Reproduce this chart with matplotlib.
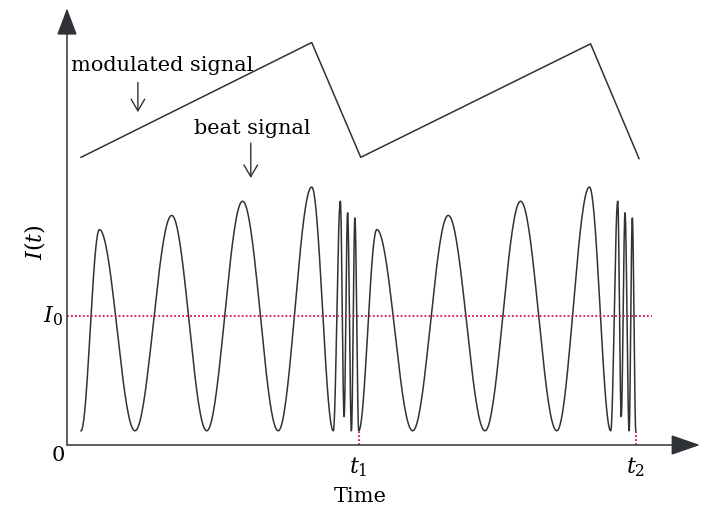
import numpy as np
import matplotlib
matplotlib.use('Agg')
from matplotlib import pyplot as plt

plt.rcParams['font.family'] = ['DejaVu Serif']
plt.rcParams['mathtext.fontset'] = 'dejavuserif'

# beat signal extrema (time in units of t1, intensity in units of I0)
beat_t = [0.048, 0.111, 0.233, 0.359, 0.479, 0.602, 0.724, 0.839, 0.913,
          0.937, 0.950, 0.962, 0.975, 0.987, 1.000,
          1.062, 1.185, 1.307, 1.433, 1.555, 1.679, 1.791, 1.864,
          1.888, 1.900, 1.913, 1.927, 1.938, 1.950]
beat_i = [0.11, 1.67, 0.11, 1.78, 0.11, 1.89, 0.11, 2.00, 0.11,
          1.89, 0.22, 1.80, 0.11, 1.76, 0.11,
          1.67, 0.11, 1.78, 0.11, 1.89, 0.11, 2.00, 0.11,
          1.89, 0.22, 1.80, 0.11, 1.76, 0.11]

# modulated (sawtooth) signal corners
mod_t = [0.048, 0.839, 1.007, 1.795, 1.961]
mod_i = [2.23, 3.12, 2.23, 3.11, 2.22]

t1, t2 = 1.0, 1.95
i0 = 1.0

line_c = '#2f3236'
red = '#d4134f'

fig = plt.figure(figsize=(7.12, 5.14), dpi=100)
ax = fig.add_axes([0, 0, 1, 1])
ax.set_xlim(-67 / 291.7, 645 / 291.7)
ax.set_ylim(-69 / 129, 445 / 129)
ax.axis('off')

# smooth half-cosine between consecutive extrema
xs, ys = [], []
for k in range(len(beat_t) - 1):
    s = np.linspace(0, 1, 40)
    xs.append(beat_t[k] + (beat_t[k + 1] - beat_t[k]) * s)
    ys.append(beat_i[k] + (beat_i[k + 1] - beat_i[k]) * (1 - np.cos(np.pi * s)) / 2)
ax.plot(np.concatenate(xs), np.concatenate(ys), color=line_c, lw=1.1)

ax.plot(mod_t, mod_i, color=line_c, lw=1.1)

# I0 level and t1, t2 markers
ax.plot([0, 2.004], [i0, i0], color=red, lw=1.3, ls=(0, (1, 1.2)))
for tt in (t1, t2):
    ax.plot([tt, tt], [0, 0.11], color=red, lw=1.3, ls=(0, (1, 1.2)))

# axes with arrows
ax.annotate('', xy=(2.17, 0), xytext=(0, 0),
            arrowprops=dict(arrowstyle='-|>,head_length=1.3,head_width=0.45',
                            color=line_c, lw=1.1, mutation_scale=14,
                            shrinkA=0, shrinkB=0))
ax.annotate('', xy=(0, 3.385), xytext=(0, 0),
            arrowprops=dict(arrowstyle='-|>,head_length=1.2,head_width=0.45',
                            color=line_c, lw=1.1, mutation_scale=14,
                            shrinkA=0, shrinkB=0))

# labels
fs = 15
ax.text(0.014, 2.94, 'modulated signal', fontsize=fs, ha='left', va='center')
ax.annotate('', xy=(0.243, 2.58), xytext=(0.243, 2.81),
            arrowprops=dict(arrowstyle='->,head_length=0.6,head_width=0.35',
                            color=line_c, lw=1.0, mutation_scale=14,
                            shrinkA=0, shrinkB=0))
ax.text(0.435, 2.45, 'beat signal', fontsize=fs, ha='left', va='center')
ax.annotate('', xy=(0.63, 2.07), xytext=(0.63, 2.34),
            arrowprops=dict(arrowstyle='->,head_length=0.6,head_width=0.35',
                            color=line_c, lw=1.0, mutation_scale=14,
                            shrinkA=0, shrinkB=0))

ax.text(-0.11, 1.57, r'$I(t)$', fontsize=16, rotation=90, ha='center', va='center')
ax.text(-0.015, i0, r'$I_0$', fontsize=16, ha='right', va='center')
ax.text(-0.03, -0.08, '0', fontsize=fs, ha='center', va='center')
ax.text(t1, -0.17, r'$t_1$', fontsize=16, ha='center', va='center')
ax.text(t2, -0.17, r'$t_2$', fontsize=16, ha='center', va='center')
ax.text(1.005, -0.40, 'Time', fontsize=fs, ha='center', va='center')

fig.savefig('out.png', dpi=100)
